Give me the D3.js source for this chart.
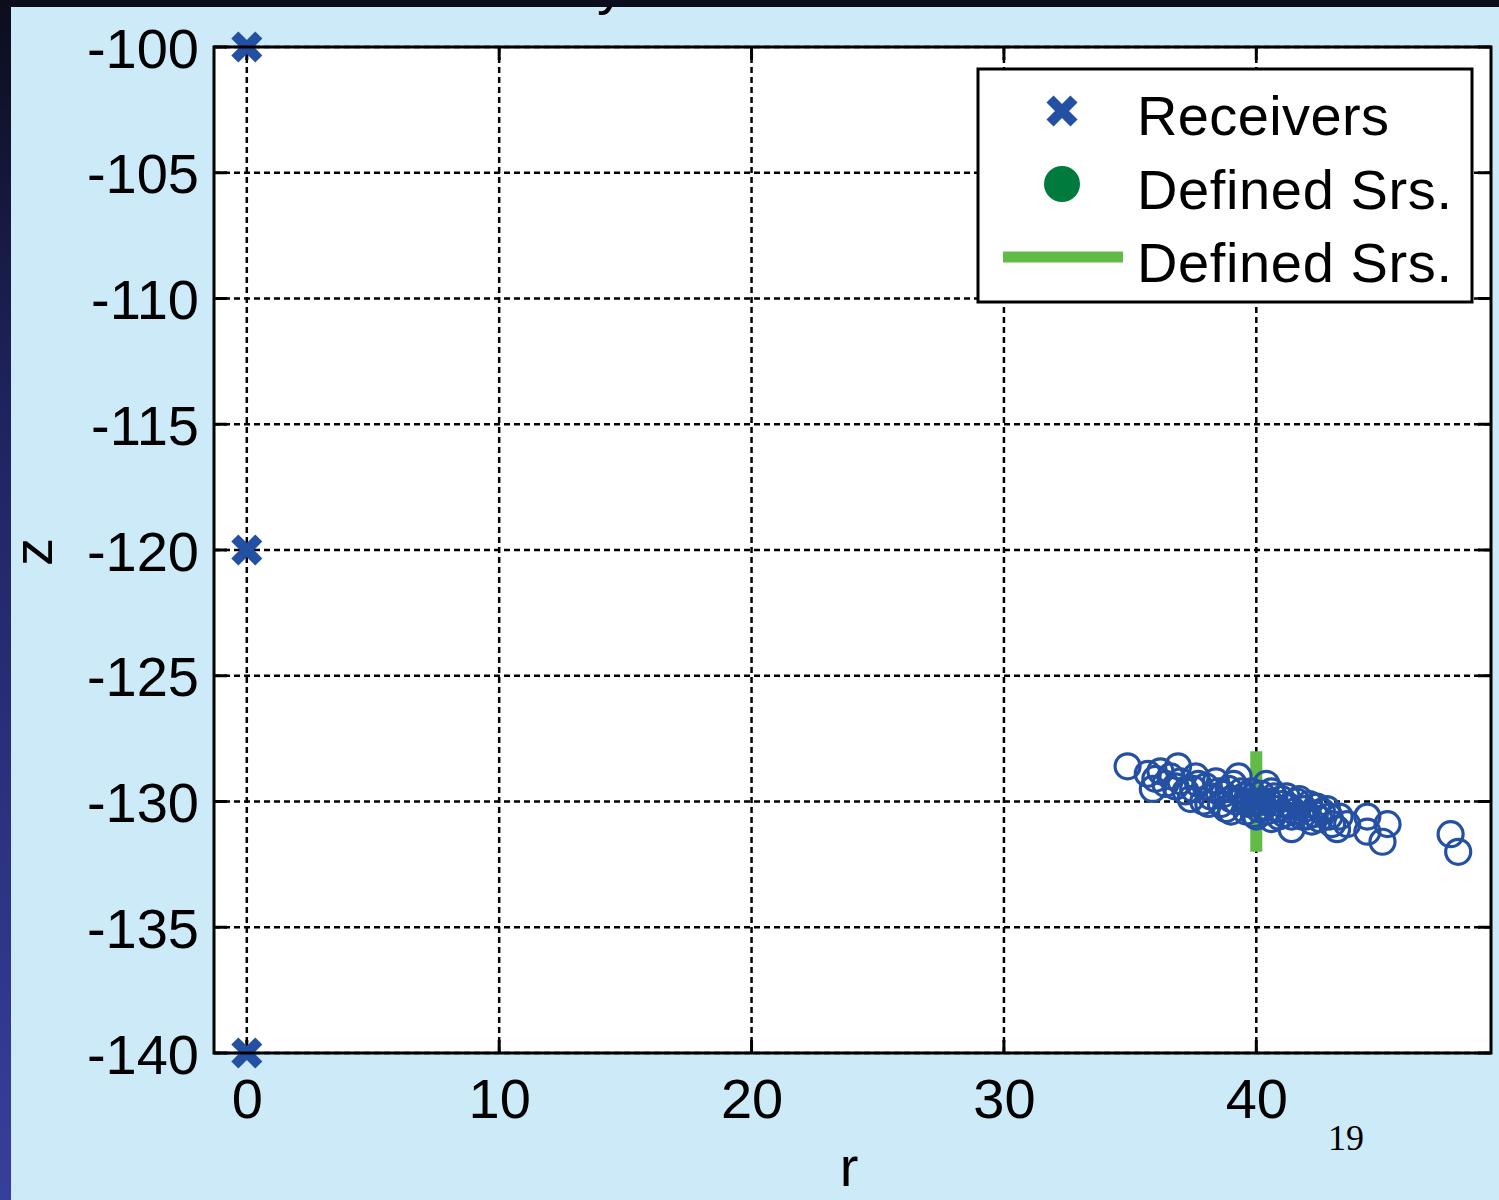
<!DOCTYPE html>
<html>
<head>
<meta charset="utf-8">
<script src="https://cdn.jsdelivr.net/npm/d3@7"></script>
<style>
  html, body { margin: 0; padding: 0; background: #cdeaf9; }
  svg { display: block; }
</style>
</head>
<body>
<svg id="chart" width="1499" height="1200"></svg>
<script>
// Receiver positions (r, z)
const receivers = [[0, -100], [0, -120], [0, -140]];
// Defined source location and its vertical extent
const sourcePoint = [[40, -130]];
const sourceLine = [[40, -128], [40, -132]];
// Estimated source locations (r, z)
const estimates = [
  [34.9,-128.6],[35.7,-128.9],[36.0,-129.1],[36.9,-128.6],[35.9,-129.5],[36.4,-129.3],
  [37.0,-129.2],[37.5,-129.5],[37.9,-130.0],[38.4,-129.2],[38.7,-129.7],[39.0,-130.4],
  [39.3,-129.0],[39.4,-129.6],[39.6,-130.4],[40.4,-129.3],[40.6,-130.7],[41.2,-129.8],
  [41.4,-131.1],[41.7,-129.9],[42.0,-130.6],[42.8,-130.3],[43.0,-130.9],[43.2,-131.1],
  [44.4,-130.6],[44.4,-131.2],[45.2,-130.9],[45.0,-131.6],[47.7,-131.3],[48.0,-132.0],
  [38.0,-129.4],[38.2,-129.8],[38.6,-130.1],[38.9,-129.5],[39.2,-130.0],[39.5,-129.8],
  [39.7,-130.1],[39.8,-129.6],[40.0,-130.0],[40.1,-130.3],[40.2,-129.7],[40.3,-130.2],
  [40.5,-130.0],[40.7,-129.8],[40.8,-130.3],[41.0,-130.1],[41.1,-130.5],[41.3,-130.2],
  [41.5,-130.4],[41.6,-130.0],[41.9,-130.3],[42.1,-130.1],[42.3,-130.5],[42.5,-130.7],
  [42.6,-130.4],[37.2,-129.6],[37.7,-129.3],[36.6,-129.0],[37.4,-129.9],[38.8,-130.3],
  [39.9,-130.5],[40.9,-130.6],[42.2,-130.8],[43.6,-130.9],
  [36.2,-128.8],[36.8,-129.4],[37.6,-129.0],[38.1,-130.1],[38.5,-129.6],[39.1,-129.3],
  [39.6,-130.0],[40.0,-130.6],[40.4,-130.4],[40.6,-129.6],[41.0,-129.9],[41.4,-130.6],
  [41.8,-130.6],[42.4,-130.2],[42.9,-130.6],[43.3,-130.6],[39.0,-129.9],[40.2,-130.0]
];
const xTicks = [0, 10, 20, 30, 40];
const yTicks = [-140, -135, -130, -125, -120, -115, -110, -105, -100];
const legendLabels = ["Receivers", "Defined Srs.", "Defined Srs."];
const pageNumber = "19";

const blue = "#2450a4", darkGreen = "#007a3d", lightGreen = "#62bb46";
const fontSize = 56;
const sans = "'Liberation Sans', Arial, sans-serif";
const serif = "'Liberation Serif', 'Times New Roman', serif";

const svg = d3.select("#chart").attr("font-family", sans);

// slide frame
const defs = svg.append("defs");
const grad = defs.append("linearGradient").attr("id", "sideband")
  .attr("x1", 0).attr("y1", 0).attr("x2", 0).attr("y2", 1);
grad.append("stop").attr("offset", "0%").attr("stop-color", "#0c0d1d");
grad.append("stop").attr("offset", "35%").attr("stop-color", "#1f2460");
grad.append("stop").attr("offset", "100%").attr("stop-color", "#373f9c");
svg.append("rect").attr("width", 1499).attr("height", 1200).attr("fill", "#cdeaf9");

// title (mostly above the visible panel)
svg.append("text").attr("x", 597).attr("y", 3).attr("font-size", fontSize).text("y");

svg.append("rect").attr("x", 0).attr("y", 0).attr("width", 1499).attr("height", 7).attr("fill", "#0c0d1d");
svg.append("rect").attr("x", 0).attr("y", 0).attr("width", 11).attr("height", 1200).attr("fill", "url(#sideband)");

const L = 214, R = 1491, T = 47, B = 1053;
const x = d3.scaleLinear().domain([-1.3, 49.3]).range([L, R]);
const y = d3.scaleLinear().domain([-140, -100]).range([B, T]);

// plot area
svg.append("rect").attr("x", L).attr("y", T).attr("width", R - L).attr("height", B - T).attr("fill", "#fff");

// grid
const grid = svg.append("g");
grid.selectAll(".gx").data(xTicks).join("line")
  .attr("x1", d => x(d)).attr("x2", d => x(d)).attr("y1", T).attr("y2", B)
  .attr("stroke", "#000").attr("stroke-width", 2.5).attr("stroke-dasharray", "6,4");
grid.selectAll(".gy").data(yTicks).join("line")
  .attr("x1", L).attr("x2", R).attr("y1", d => y(d)).attr("y2", d => y(d))
  .attr("stroke", "#000").attr("stroke-width", 2.5).attr("stroke-dasharray", "6,4");

// inward ticks on all four sides
const tl = 13;
const ticks = svg.append("g").attr("stroke", "#000").attr("stroke-width", 3);
xTicks.forEach(d => {
  ticks.append("line").attr("x1", x(d)).attr("x2", x(d)).attr("y1", B).attr("y2", B - tl);
  ticks.append("line").attr("x1", x(d)).attr("x2", x(d)).attr("y1", T).attr("y2", T + tl);
});
yTicks.forEach(d => {
  ticks.append("line").attr("x1", L).attr("x2", L + tl).attr("y1", y(d)).attr("y2", y(d));
  ticks.append("line").attr("x1", R).attr("x2", R - tl).attr("y1", y(d)).attr("y2", y(d));
});

// tick labels via d3 axes (plain hyphen for negatives)
const fmt = d => String(d);
const xAxis = svg.append("g").attr("transform", `translate(0,${B})`)
  .call(d3.axisBottom(x).tickValues(xTicks).tickSize(0).tickPadding(25).tickFormat(fmt));
const yAxis = svg.append("g").attr("transform", `translate(${L},0)`)
  .call(d3.axisLeft(y).tickValues(yTicks).tickSize(0).tickPadding(15).tickFormat(fmt));
[xAxis, yAxis].forEach(a => {
  a.select(".domain").remove();
  a.attr("font-family", sans).attr("font-size", fontSize);
  a.selectAll("text").attr("fill", "#000");
});
yAxis.selectAll("text").attr("dy", "0.36em");

// axis titles
svg.append("text").attr("x", 849).attr("y", 1186).attr("text-anchor", "middle")
  .attr("font-size", fontSize).text("r");
svg.append("text").attr("transform", "translate(52,552) rotate(-90)").attr("text-anchor", "middle")
  .attr("font-size", fontSize).text("z");

// marks
const marks = svg.append("g");
function cross(g, cx, cy, s) {
  g.append("path").attr("d", `M${cx - s},${cy - s}L${cx + s},${cy + s}M${cx - s},${cy + s}L${cx + s},${cy - s}`)
    .attr("stroke", blue).attr("stroke-width", 10).attr("fill", "none");
}
receivers.forEach(d => cross(marks, x(d[0]), y(d[1]), 12));
marks.selectAll(".src").data(sourcePoint).join("circle")
  .attr("cx", d => x(d[0])).attr("cy", d => y(d[1])).attr("r", 16).attr("fill", darkGreen);
marks.append("path").datum(sourceLine)
  .attr("d", d3.line().x(d => x(d[0])).y(d => y(d[1])))
  .attr("stroke", lightGreen).attr("stroke-width", 12).attr("fill", "none");
marks.selectAll(".est").data(estimates).join("circle")
  .attr("cx", d => x(d[0])).attr("cy", d => y(d[1])).attr("r", 12.5)
  .attr("fill", "none").attr("stroke", blue).attr("stroke-width", 3.2);

// axes box
svg.append("rect").attr("x", L).attr("y", T).attr("width", R - L).attr("height", B - T)
  .attr("fill", "none").attr("stroke", "#000").attr("stroke-width", 3);

// legend
const lg = svg.append("g");
lg.append("rect").attr("x", 978).attr("y", 69).attr("width", 494).attr("height", 233)
  .attr("fill", "#fff").attr("stroke", "#000").attr("stroke-width", 3);
cross(lg, 1062, 111, 12);
lg.append("circle").attr("cx", 1062).attr("cy", 184).attr("r", 18).attr("fill", darkGreen);
lg.append("line").attr("x1", 1003).attr("x2", 1123).attr("y1", 257).attr("y2", 257)
  .attr("stroke", lightGreen).attr("stroke-width", 11);
lg.selectAll(".lt").data(legendLabels).join("text")
  .attr("x", 1137).attr("y", (d, i) => 135 + i * 73.5)
  .attr("font-size", fontSize).attr("textLength", (d, i) => i === 0 ? 252 : 315)
  .text(d => d);

// slide page number
svg.append("text").attr("x", 1346).attr("y", 1150).attr("text-anchor", "middle")
  .attr("font-family", serif).attr("font-size", 36)
  .text(pageNumber);
</script>
</body>
</html>
